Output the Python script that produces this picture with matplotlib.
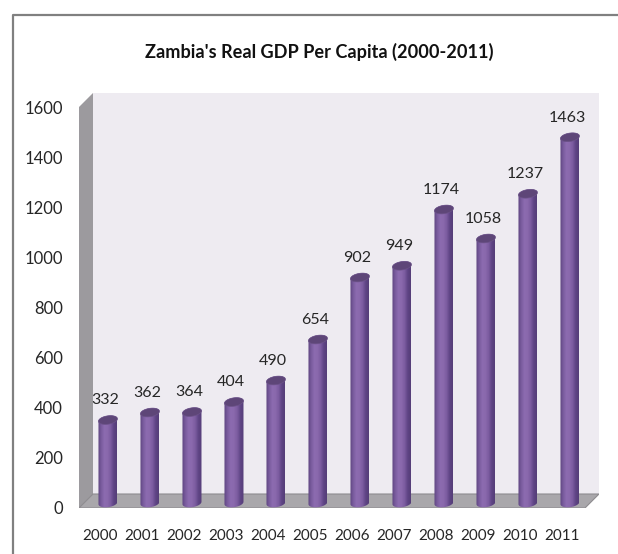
import numpy as np
import matplotlib
matplotlib.use("Agg")
import matplotlib.pyplot as plt
from matplotlib.lines import Line2D
from matplotlib.patches import Polygon
from matplotlib.colors import LinearSegmentedColormap

years = ["2000","2001","2002","2003","2004","2005","2006","2007","2008","2009","2010","2011"]
gdp = [332,362,364,404,490,654,902,949,1174,1058,1237,1463]
yticks = [0,200,400,600,800,1000,1200,1400,1600]
title = "Zambia's Real GDP Per Capita (2000-2011)"

W, H = 618, 554
plt.rcParams['font.family'] = ['Lato', 'DejaVu Sans']
fig = plt.figure(figsize=(W/100, H/100), dpi=100, facecolor='white')
L, R, T, B = 79, 599, 93, 508
ax = fig.add_axes([L/W, 1-B/H, (R-L)/W, (B-T)/H])
PXX = 42.0; X0 = 100.0; PXY = 0.25
ax.set_xlim((L-X0)/PXX, (R-X0)/PXX)
ax.set_ylim(0, (B-T)/PXY)
for s in ax.spines.values():
    s.set_visible(False)
ax.patch.set_visible(False)

dx = 14/PXX; dy = 14/PXY
xl, xr = ax.get_xlim(); yb, yt = ax.get_ylim()
# back wall, side wall, floor
ax.add_patch(Polygon([[xl+dx,yb+dy],[xr,yb+dy],[xr,yt],[xl+dx,yt]], fc='#eeebf1', ec='none', zorder=1))
ax.add_patch(Polygon([[xl,yb],[xl+dx,yb+dy],[xl+dx,yt],[xl,yt-dy]], fc='#9c9a9e', ec='none', zorder=2))
ax.add_patch(Polygon([[xl,yb],[xr-dx,yb],[xr,yb+dy],[xl+dx,yb+dy]], fc='#a9a7ab', ec='#8e8c90', lw=0.8, zorder=2))

cmap = LinearSegmentedColormap.from_list('cyl', ['#5d4480','#7a5c9e','#8c6bb0','#8a69ad','#7c5ca0','#5f4585','#553d78'])
grad = np.linspace(0, 1, 64).reshape(1, -1)
OFF = 0.19; HW = 9.5/PXX; BASE = 20; RY = 4.2/PXY; TILT = 1.2/PXY
t = np.linspace(0, 2*np.pi, 60)
for i, v in enumerate(gdp):
    c = i + OFF
    top = v + BASE
    tb = np.linspace(np.pi, 2*np.pi, 30)
    tt = np.linspace(0, np.pi, 30)
    xs = np.r_[c+HW*np.cos(tb), c+HW*np.cos(tt)]
    ys = np.r_[BASE+RY*np.sin(tb)+TILT*np.cos(tb), top+RY*np.sin(tt)+TILT*np.cos(tt)]
    body = Polygon(np.c_[xs, ys], fc='none', ec='none', zorder=4)
    ax.add_patch(body)
    im = ax.imshow(grad, cmap=cmap, extent=[c-HW, c+HW, BASE-2*RY, top+2*RY], aspect='auto', zorder=4, interpolation='bilinear')
    im.set_clip_path(body)
    ax.add_patch(Polygon(np.c_[c+HW*np.cos(t), top+RY*np.sin(t)+TILT*np.cos(t)], fc='#5e4678', ec='#6b5288', lw=0.5, zorder=5))
    ax.annotate(str(v), (c, top), xytext=(-2, 9), textcoords='offset points', ha='center', va='bottom',
                fontsize=11.5, color='#262626', zorder=6, annotation_clip=False)

ax.set_xlim(xl, xr); ax.set_ylim(yb, yt)
ax.set_xticks(range(len(years)))
ax.set_xticklabels(years, fontsize=11, color='#262626')
ax.set_yticks(yticks)
ax.set_yticklabels([str(v) for v in yticks], fontsize=12, color='#262626')
ax.tick_params(axis='both', length=0)
ax.tick_params(axis='x', pad=15)
ax.tick_params(axis='y', pad=11.5)

fig.text(319/W, 1-52/H, title, ha='center', va='center', fontsize=13.1, fontweight='bold', color='#111111')
fig.add_artist(Line2D([12.5/W, 12.5/W, 1], [0, 1-15/H, 1-15/H], color='#808080', lw=1.6))
fig.savefig('out.png', dpi=100, facecolor='white')
